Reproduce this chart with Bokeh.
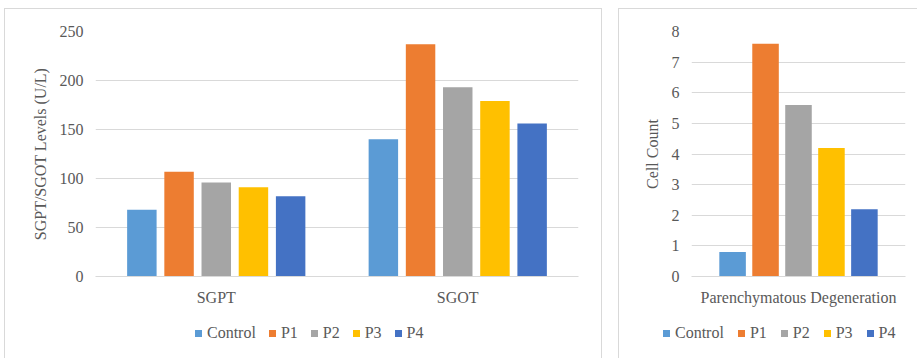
from bokeh.plotting import figure
from bokeh.models import ColumnDataSource, FactorRange, Range1d, FixedTicker, Div
from bokeh.transform import dodge
from bokeh.layouts import row, column
from bokeh.embed import file_html
from bokeh.resources import INLINE

# ---- data ----
groups = ["Control", "P1", "P2", "P3", "P4"]
colors = ["#5b9bd5", "#ed7d31", "#a5a5a5", "#ffc000", "#4472c4"]

tests = ["SGPT", "SGOT"]
control_lv = [68, 140]
p1_lv = [107, 237]
p2_lv = [96, 193]
p3_lv = [91, 179]
p4_lv = [82, 156]
left_ticks = [0, 50, 100, 150, 200, 250]

lesions = ["Parenchymatous Degeneration"]
control_cc = [0.8]
p1_cc = [7.6]
p2_cc = [5.6]
p3_cc = [4.2]
p4_cc = [2.2]
right_ticks = [0, 1, 2, 3, 4, 5, 6, 7, 8]

FONT = "serif"
HTML_FONT = "'Liberation Serif','Times New Roman',Times,serif"
TXT = "#595959"
GRID = "#d9d9d9"


def style(p, ylabel, ticks):
    p.outline_line_color = None
    p.xgrid.grid_line_color = None
    p.ygrid.grid_line_color = GRID
    p.ygrid.grid_line_width = 1
    p.yaxis.ticker = FixedTicker(ticks=ticks)
    p.yaxis.axis_line_color = None
    p.yaxis.major_tick_line_color = None
    p.yaxis.minor_tick_line_color = None
    p.yaxis.major_tick_out = 0
    p.yaxis.major_label_standoff = 12
    p.yaxis.axis_label = ylabel
    p.yaxis.axis_label_standoff = 8
    p.xaxis.axis_line_color = GRID
    p.xaxis.major_tick_line_color = None
    p.xaxis.minor_tick_line_color = None
    p.xaxis.major_tick_out = 0
    p.xaxis.major_label_standoff = 12
    for ax in (p.xaxis, p.yaxis):
        ax.major_label_text_font = FONT
        ax.major_label_text_font_size = "16px"
        ax.major_label_text_color = TXT
        ax.axis_label_text_font = FONT
        ax.axis_label_text_font_size = "16px"
        ax.axis_label_text_font_style = "normal"
        ax.axis_label_text_color = TXT


def legend_div(width, pad_left, gap):
    items = "".join(
        f'<span style="display:inline-flex;align-items:center;margin-right:{gap}px">'
        f'<span style="display:inline-block;width:7px;height:7px;background:{c};'
        f'margin-right:5px"></span>{g}</span>'
        for g, c in zip(groups, colors))
    html = (f'<div style="display:flex;align-items:center;height:18px;margin-top:14px;'
            f'padding-left:{pad_left}px;font-family:{HTML_FONT};font-size:16px;'
            f'color:{TXT};white-space:nowrap;line-height:18px">{items}</div>')
    return Div(text=html, width=width, height=48, margin=0)


# ---- left chart ----
src_l = ColumnDataSource(dict(cat=tests, Control=control_lv, P1=p1_lv,
                              P2=p2_lv, P3=p3_lv, P4=p4_lv))
p1 = figure(width=596, height=301, x_range=FactorRange(factors=tests),
            y_range=Range1d(0, 250), output_backend="svg", toolbar_location=None,
            min_border_left=90, min_border_right=23, min_border_top=22,
            min_border_bottom=34)
style(p1, "SGPT/SGOT Levels (U/L)", left_ticks)
for i, (g, c) in enumerate(zip(groups, colors)):
    p1.vbar(x=dodge("cat", (i - 2) * 0.154, range=p1.x_range), top=g,
            width=0.122, source=src_l, fill_color=c, line_color=None)
box1 = column(p1, legend_div(596, 190, 13), spacing=0,
              styles={"border": "1px solid #d9d9d9", "border-bottom": "none"},
              margin=(8, 0, 0, 4))

# ---- right chart ----
src_r = ColumnDataSource(dict(cat=lesions, Control=control_cc, P1=p1_cc,
                              P2=p2_cc, P3=p3_cc, P4=p4_cc))
p2 = figure(width=298, height=301, x_range=FactorRange(factors=lesions),
            y_range=Range1d(0, 8), output_backend="svg", toolbar_location=None,
            min_border_left=72, min_border_right=12, min_border_top=22,
            min_border_bottom=34)
style(p2, "Cell Count", right_ticks)
for i, (g, c) in enumerate(zip(groups, colors)):
    p2.vbar(x=dodge("cat", (i - 2) * 0.154, range=p2.x_range), top=g,
            width=0.124, source=src_r, fill_color=c, line_color=None)
box2 = column(p2, legend_div(298, 44, 14), spacing=0,
              styles={"border": "1px solid #d9d9d9", "border-bottom": "none",
                      "border-right": "none"},
              margin=(8, 0, 0, 16))

layout = row(box1, box2, spacing=0)
open("out.html", "w").write(file_html(layout, INLINE))
